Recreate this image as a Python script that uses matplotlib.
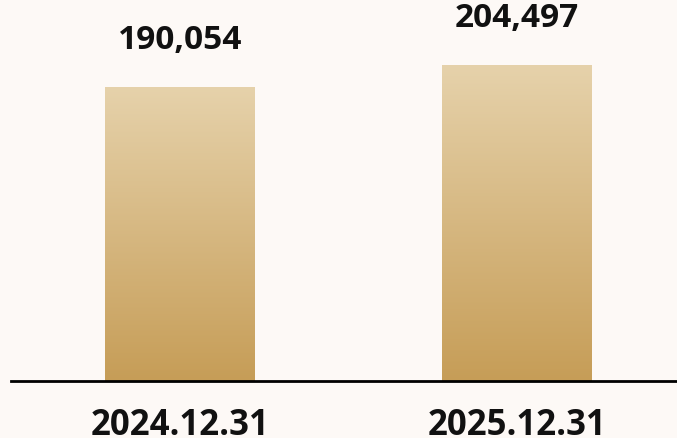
import matplotlib
matplotlib.use('Agg')
import matplotlib.pyplot as plt
import numpy as np
from matplotlib.colors import LinearSegmentedColormap

# year-end totals
dates = ['2024.12.31', '2025.12.31']
totals = [190054, 204497]

bg = '#fdf9f6'
plt.rcParams['font.family'] = ['Open Sans', 'DejaVu Sans']

fig = plt.figure(figsize=(6.77, 4.39), dpi=100, facecolor=bg)
ax = fig.add_axes([11 / 677, 57 / 439, 666 / 677, 382 / 439])
ax.set_facecolor(bg)

x = np.arange(len(dates))
bars = ax.bar(x, totals, width=0.445, color='none', edgecolor='none')

ax.set_xlim(-0.5015, 1.4748)
ax.set_ylim(0, 246900)

# vertical gold gradient clipped to each bar
cmap = LinearSegmentedColormap.from_list('gold', ['#c69d57', '#e6d2ab'])
grad = np.linspace(0, 1, 256).reshape(-1, 1)
for b in bars:
    x0, w, h = b.get_x(), b.get_width(), b.get_height()
    im = ax.imshow(grad, cmap=cmap, origin='lower', aspect='auto',
                   extent=[x0, x0 + w, 0, h], zorder=2)
    im.set_clip_path(b)
    ax.text(x0 + w / 2, h + 31 * 646.4, f'{h:,.0f}', ha='center', va='bottom',
            fontsize=24, fontweight='bold', color='#111111')

for s in ['top', 'left', 'right']:
    ax.spines[s].set_visible(False)
ax.spines['bottom'].set_linewidth(2)
ax.spines['bottom'].set_color('black')
ax.spines['bottom'].set_zorder(3)

ax.set_yticks([])
ax.set_xticks(x)
ax.set_xticklabels(dates, fontsize=25, fontweight='bold', color='#111111')
ax.tick_params(axis='x', length=0, pad=19)

fig.savefig('out.png', dpi=100, facecolor=bg)
